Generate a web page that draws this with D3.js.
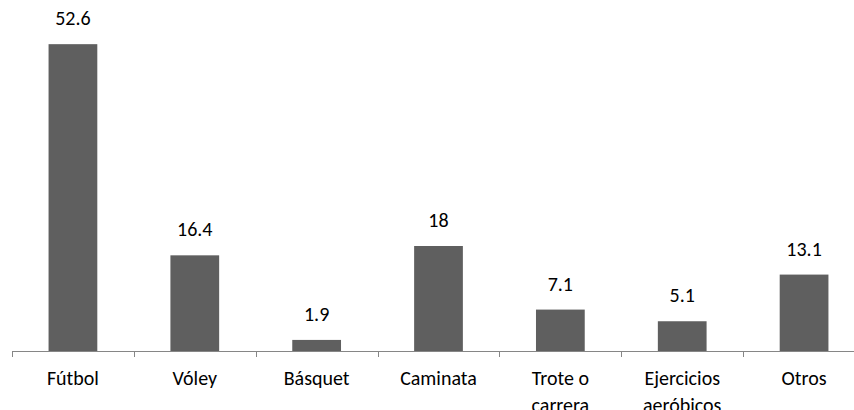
<!DOCTYPE html>
<html>
<head>
<meta charset="utf-8">
<script src="https://cdn.jsdelivr.net/npm/d3@7"></script>
<style>
  html, body { margin: 0; padding: 0; background: #fff; }
  svg { display: block; }
  text { font-family: Calibri, Carlito, "Open Sans", sans-serif; fill: #000; }
</style>
</head>
<body>
<svg id="chart" width="854" height="410"></svg>
<script>
// Deporte practicado (%)
const categories = ["Fútbol", "Vóley", "Básquet", "Caminata", "Trote o carrera", "Ejercicios aeróbicos", "Otros"];
const values = [52.6, 16.4, 1.9, 18, 7.1, 5.1, 13.1];
const valueLabels = ["52.6", "16.4", "1.9", "18", "7.1", "5.1", "13.1"];
const yMax = 60;

const svg = d3.select("#chart");
const fontSize = 20;

const x = d3.scaleBand()
  .domain(categories)
  .range([12, 865])
  .paddingInner(0.6)
  .paddingOuter(0.3);

const y = d3.scaleLinear()
  .domain([0, yMax])
  .range([351, 1]);

const step = x.step();
const baseY = y(0);

// bars
svg.append("g")
  .selectAll("rect")
  .data(categories)
  .join("rect")
  .attr("x", d => x(d))
  .attr("y", (d, i) => y(values[i]))
  .attr("width", x.bandwidth())
  .attr("height", (d, i) => baseY - y(values[i]))
  .attr("fill", "#5f5f5f");

// category axis: baseline and boundary ticks
const axis = svg.append("g").attr("stroke", "#868686").attr("stroke-width", 1);
axis.append("line")
  .attr("x1", x.range()[0]).attr("x2", x.range()[1])
  .attr("y1", baseY + 0.5).attr("y2", baseY + 0.5);
const boundaries = d3.range(categories.length + 1).map(i => x.range()[0] + i * step);
axis.selectAll("line.tick")
  .data(boundaries)
  .join("line")
  .attr("class", "tick")
  .attr("x1", d => Math.round(d) + 0.5).attr("x2", d => Math.round(d) + 0.5)
  .attr("y1", baseY).attr("y2", baseY + 6);

// value labels
svg.append("g")
  .selectAll("text")
  .data(categories)
  .join("text")
  .attr("x", d => x(d) + x.bandwidth() / 2)
  .attr("y", (d, i) => y(values[i]) - 19)
  .attr("text-anchor", "middle")
  .attr("font-size", fontSize)
  .text((d, i) => valueLabels[i]);

// category labels, wrapped in two lines where needed
const catLabels = {
  "Trote o carrera": ["Trote o", "carrera"],
  "Ejercicios aeróbicos": ["Ejercicios", "aeróbicos"]
};
svg.append("g")
  .selectAll("text")
  .data(categories)
  .join("text")
  .attr("x", d => x(d) + x.bandwidth() / 2)
  .attr("y", 385)
  .attr("text-anchor", "middle")
  .attr("font-size", fontSize)
  .each(function(d) {
    const lines = catLabels[d] || [d];
    d3.select(this).selectAll("tspan")
      .data(lines)
      .join("tspan")
      .attr("x", x(d) + x.bandwidth() / 2)
      .attr("dy", (l, j) => j === 0 ? 0 : 27)
      .text(l => l);
  });
</script>
</body>
</html>
